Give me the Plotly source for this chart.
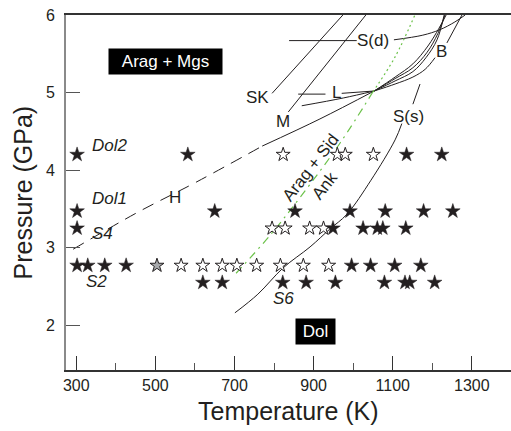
import plotly.graph_objects as go

# ---------------- data ----------------
filled_T = [302, 582, 1135, 1224,
            302, 650, 853, 992, 1081, 1178, 1252,
            302, 949, 1025, 1061, 1075, 1133,
            302, 329, 372, 426, 996, 1044, 1105, 1171,
            620, 669, 822, 881, 955, 1079, 1131, 1143, 1206]
filled_P = [4.2] * 4 + [3.47] * 7 + [3.25] * 6 + [2.77] * 8 + [2.55] * 9

open_T = [823, 960, 980, 1051,
          795, 828, 890, 925,
          565, 620, 669, 706, 756, 816, 874, 938]
open_P = [4.2] * 4 + [3.25] * 4 + [2.77] * 8

gray_T = [504]
gray_P = [2.77]

SK_T = [795, 974];                 SK_P = [4.99, 6.0]
M_T = [836, 1032];                 M_P = [4.75, 6.0]
Sd_lead_T = [838, 1009];           Sd_lead_P = [5.67, 5.67]
Sd_T = [1103, 1176, 1219, 1257, 1283]; Sd_P = [5.68, 5.74, 5.81, 5.91, 6.0]
L_lead_T = [861, 930];             L_lead_P = [4.98, 4.98]
L_T = [971, 1053];                 L_P = [4.99, 5.02]
H_dash_T = [292, 453, 605, 770];   H_dash_P = [2.98, 3.45, 3.85, 4.31]
H_T = [770, 916, 1053];            H_P = [4.31, 4.66, 5.02]
Mlow_T = [870, 975, 1053];         Mlow_P = [4.83, 4.93, 5.02]
c1_T = [1053, 1106, 1151, 1182, 1207]; c1_P = [5.02, 5.11, 5.20, 5.30, 5.45]
c2_T = [1053, 1106, 1151, 1184, 1212, 1230]; c2_P = [5.02, 5.15, 5.27, 5.45, 5.68, 6.0]
c3_T = [1053, 1106, 1151, 1187, 1214, 1232]; c3_P = [5.02, 5.18, 5.32, 5.52, 5.76, 6.0]
c4_T = [1053, 1106, 1151, 1189, 1217, 1235]; c4_P = [5.02, 5.20, 5.37, 5.60, 5.83, 6.0]
B_T = [1237, 1275];                B_P = [5.64, 6.0]
Ss_T = [701, 759, 823, 891, 941, 984, 1045, 1106, 1123]
Ss_P = [2.16, 2.40, 2.74, 3.01, 3.24, 3.43, 3.87, 4.39, 4.60]
Ss_up_T = [1151, 1169];            Ss_up_P = [4.85, 5.11]
green_lo_T = [704, 790, 866, 967, 1050]; green_lo_P = [2.67, 3.16, 3.65, 4.35, 5.01]
green_hi_T = [1050, 1106, 1156];   green_hi_P = [5.01, 5.46, 6.0]

labels = [
    ("SK", 759, 4.93, False), ("M", 823, 4.63, False), ("L", 957, 5.0, False),
    ("S(d)", 1051, 5.67, False), ("B", 1224, 5.53, False), ("S(s)", 1141, 4.685, False),
    ("H", 550, 3.65, False),
    ("Dol2", 385, 4.32, True), ("Dol1", 383, 3.64, True), ("S4", 366, 3.18, True),
    ("S2", 351, 2.56, True), ("S6", 823, 2.35, True),
]

x_ticks = [300, 500, 700, 900, 1100, 1300]
x_minor = [400, 600, 800, 1000, 1200]
y_ticks = [2, 3, 4, 5, 6]

FONT = "Arial, Liberation Sans, sans-serif"
INK = "#231f20"

fig = go.Figure()


def add_line(T, P, dash="solid", color=INK, width=1, shape="linear"):
    fig.add_trace(go.Scatter(x=T, y=P, mode="lines", hoverinfo="skip",
                             line=dict(color=color, width=width, dash=dash, shape=shape)))


add_line(SK_T, SK_P)
add_line(M_T, M_P)
add_line(Sd_lead_T, Sd_lead_P)
add_line(Sd_T, Sd_P, shape="spline")
add_line(L_lead_T, L_lead_P)
add_line(L_T, L_P, shape="spline")
add_line(H_dash_T, H_dash_P, dash="12px,8px", shape="spline")
add_line(H_T, H_P, shape="spline")
add_line(Mlow_T, Mlow_P, shape="spline")
for cT, cP in [(c1_T, c1_P), (c2_T, c2_P), (c3_T, c3_P), (c4_T, c4_P)]:
    add_line(cT, cP, shape="spline")
add_line(B_T, B_P)
add_line(Ss_T, Ss_P, shape="spline")
add_line(Ss_up_T, Ss_up_P)
add_line(green_lo_T, green_lo_P, dash="8px,5px,2px,5px", color="#6cc24a", width=1.2, shape="spline")
add_line(green_hi_T, green_hi_P, dash="2px,3px", color="#6cc24a", width=1.2, shape="spline")

fig.add_trace(go.Scatter(x=open_T, y=open_P, mode="markers", hoverinfo="skip",
                         marker=dict(symbol="star", size=10.5, color="white",
                                     line=dict(color=INK, width=1))))
fig.add_trace(go.Scatter(x=gray_T, y=gray_P, mode="markers", hoverinfo="skip",
                         marker=dict(symbol="star", size=10.5, color="#a7a9ac",
                                     line=dict(color=INK, width=1))))
fig.add_trace(go.Scatter(x=filled_T, y=filled_P, mode="markers", hoverinfo="skip",
                         marker=dict(symbol="star", size=11, color=INK,
                                     line=dict(color=INK, width=0.5))))

ann = []
for text, T, P, ital in labels:
    ann.append(dict(x=T, y=P, text=f"<i>{text}</i>" if ital else text, showarrow=False,
                    font=dict(family=FONT, size=17, color=INK)))
ann.append(dict(x=526, y=5.40, text="Arag + Mgs", showarrow=False, bgcolor="black",
                width=109, height=21, borderpad=2,
                font=dict(family=FONT, size=17, color="white")))
ann.append(dict(x=905, y=1.92, text="Dol", showarrow=False, bgcolor="black",
                width=35, height=21, borderpad=2,
                font=dict(family=FONT, size=17, color="white")))
ann.append(dict(x=893, y=4.03, text="Arag + Sid", showarrow=False, textangle=-52,
                font=dict(family=FONT, size=17, color=INK)))
ann.append(dict(x=929, y=3.80, text="Ank", showarrow=False, textangle=-52,
                font=dict(family=FONT, size=17, color=INK)))
ann.append(dict(x=0.5, y=0, xref="paper", yref="paper", yshift=-41, yanchor="middle",
                text="Temperature (K)", showarrow=False,
                font=dict(family=FONT, size=25, color=INK)))
ann.append(dict(x=0, y=0.5, xref="paper", yref="paper", xshift=-44, xanchor="center",
                text="Pressure (GPa)", showarrow=False, textangle=-90,
                font=dict(family=FONT, size=25, color=INK)))

fig.update_layout(
    width=511, height=431,
    margin=dict(l=66, r=0, t=15, b=61),
    paper_bgcolor="white", plot_bgcolor="white",
    showlegend=False,
    annotations=ann,
    xaxis=dict(range=[274, 1399], tickmode="array", tickvals=x_ticks,
               ticktext=[str(v) for v in x_ticks],
               ticks="inside", ticklen=14, tickwidth=1.4, tickcolor="#333",
               showline=True, linecolor="#333", linewidth=1.6, mirror=True,
               showgrid=False, zeroline=False,
               minor=dict(tickmode="array", tickvals=x_minor,
                          ticks="inside", ticklen=7, tickwidth=1.4, tickcolor="#555",
                          showgrid=False),
               tickfont=dict(family=FONT, size=16, color=INK)),
    yaxis=dict(range=[1.423, 6.0], tickmode="array", tickvals=y_ticks,
               ticktext=[str(v) for v in y_ticks],
               ticks="inside", ticklen=14, tickwidth=1.4, tickcolor="#555",
               showline=True, linecolor="#8a8a8a", linewidth=2,
               showgrid=False, zeroline=False, ticklabelstandoff=6,
               tickfont=dict(family=FONT, size=16, color=INK)),
)

fig.write_html("out.html")
